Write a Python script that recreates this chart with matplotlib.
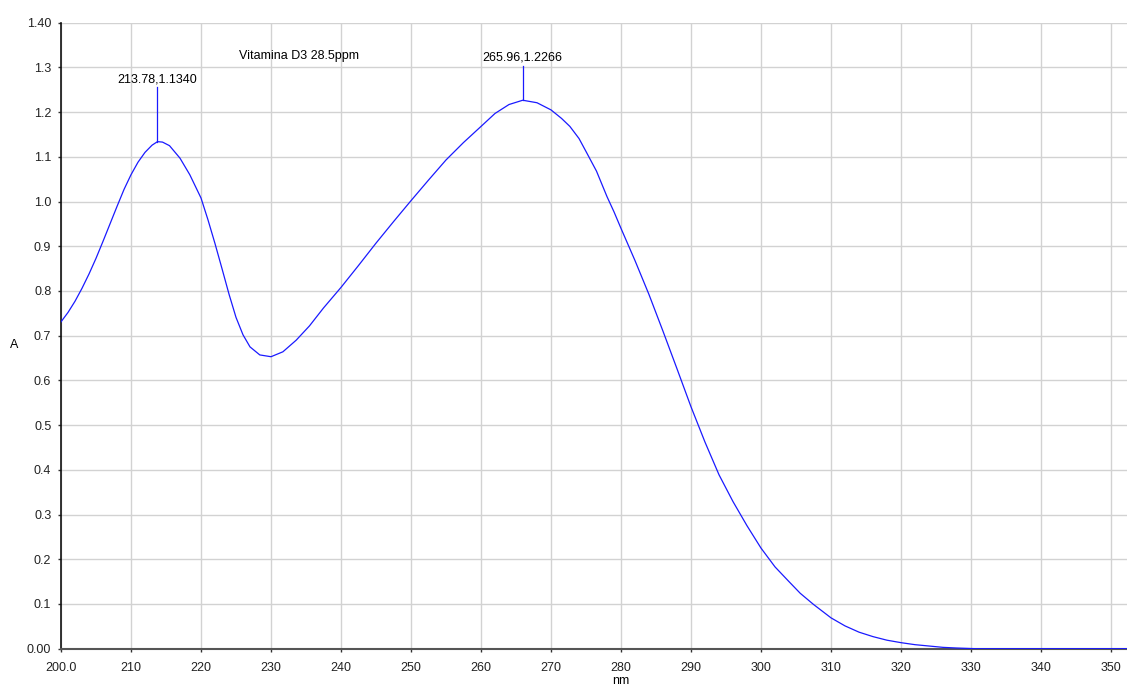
import matplotlib
matplotlib.use('Agg')
import matplotlib.pyplot as plt
from matplotlib.ticker import FuncFormatter, MultipleLocator

# spectrum (wavelength nm, absorbance A)
wavelength = [200.0, 201.0, 202.0, 203.0, 204.0, 205.0, 206.0, 207.0, 208.0,
              209.0, 210.0, 211.0, 212.0, 213.0, 213.78, 214.5, 215.5, 217.0,
              218.4, 220.0, 221.0, 222.0, 223.0, 224.0, 225.0, 226.0, 227.0,
              228.4, 230.0, 231.7, 233.6, 235.5, 237.5, 240.0, 242.5, 245.0,
              247.5, 250.0, 252.5, 255.0, 257.5, 260.0, 262.0, 264.0, 265.96,
              268.0, 270.0, 271.5, 272.7, 274.0, 275.0, 276.5, 278.0, 279.0,
              280.0, 282.0, 284.0, 286.0, 288.0, 290.0, 292.0, 294.0, 296.0,
              298.0, 300.0, 302.0, 304.0, 305.6, 307.5, 310.0, 312.0, 314.0,
              316.0, 318.0, 320.0, 322.0, 324.0, 326.0, 328.0, 330.7, 340.0,
              350.0, 360.0]
absorbance = [0.731, 0.752, 0.777, 0.806, 0.838, 0.873, 0.911, 0.950, 0.989,
              1.027, 1.060, 1.088, 1.110, 1.126, 1.134, 1.133, 1.125, 1.097,
              1.060, 1.008, 0.959, 0.906, 0.850, 0.793, 0.741, 0.702, 0.675,
              0.657, 0.653, 0.664, 0.690, 0.722, 0.762, 0.808, 0.857, 0.907,
              0.955, 1.002, 1.048, 1.093, 1.132, 1.168, 1.197, 1.217, 1.2266,
              1.221, 1.205, 1.186, 1.168, 1.141, 1.112, 1.068, 1.011, 0.977,
              0.940, 0.868, 0.792, 0.710, 0.626, 0.541, 0.462, 0.389, 0.329,
              0.275, 0.225, 0.183, 0.150, 0.124, 0.099, 0.069, 0.051, 0.037,
              0.027, 0.019, 0.0135, 0.009, 0.006, 0.003, 0.0015, 0.000, 0.000,
              0.000, 0.000]

# picked peaks and the top of their marker stems
peak_x = [213.78, 265.96]
peak_y = [1.1340, 1.2266]
stem_top = [1.256, 1.304]

title = 'Vitamina D3 28.5ppm'

plt.rcParams['font.family'] = ['Liberation Sans', 'DejaVu Sans']
plt.rcParams['font.size'] = 9

fig = plt.figure(figsize=(11.27, 6.88), dpi=100)
# axes run out to 360 nm, beyond the right edge of the picture
ax = fig.add_axes([61 / 1127, 39.3 / 688, 1120 / 1127, 626 / 688])

ax.plot(wavelength, absorbance, color='#1a1aff', lw=0.9, zorder=3)

for px, py, top in zip(peak_x, peak_y, stem_top):
  ax.plot([px, px], [py, top], color='#1a1aff', lw=0.9, zorder=3)
  ax.text(px, top + 0.004, '%.2f,%.4f' % (px, py), ha='center', va='bottom',
          fontsize=9, color='black')

ax.text(234, 1.326, title, ha='center', va='center', fontsize=9)


def x_label(v, p):
  if abs(v - 200) < 1e-6:
    return '200.0'
  if v > 355:
    return ''  # off the edge of the picture
  return '%d' % round(v)


def y_label(v, p):
  if abs(v) < 1e-6 or abs(v - 1.4) < 1e-6:
    return '%.2f' % v
  return '%.1f' % v


# axes, ticks and grid
ax.set_xlim(200, 360)
ax.set_ylim(0, 1.40)
ax.xaxis.set_major_locator(MultipleLocator(10))
ax.yaxis.set_major_locator(MultipleLocator(0.1))
ax.xaxis.set_major_formatter(FuncFormatter(x_label))
ax.yaxis.set_major_formatter(FuncFormatter(y_label))
ax.grid(True, color='#d2d2d2', lw=1.0)
ax.set_axisbelow(True)
ax.tick_params(length=2.5, width=1.0, colors='#333333', labelcolor='#222222',
               labelsize=9)
ax.tick_params(axis='x', pad=7)
ax.tick_params(axis='y', pad=4.5)

for side in ['top', 'right']:
  ax.spines[side].set_visible(False)
ax.spines['left'].set_color('#111111')
ax.spines['left'].set_linewidth(1.2)
ax.spines['bottom'].set_color('#555555')
ax.spines['bottom'].set_linewidth(1.5)

ax.set_ylabel('A', rotation=0, ha='center', va='center', fontsize=9)
ax.yaxis.set_label_coords(-0.042, 0.485)
ax.set_xlabel('nm', va='bottom', fontsize=9)
ax.xaxis.set_label_coords(0.5, -0.0605)

fig.savefig('out.png', dpi=100)
